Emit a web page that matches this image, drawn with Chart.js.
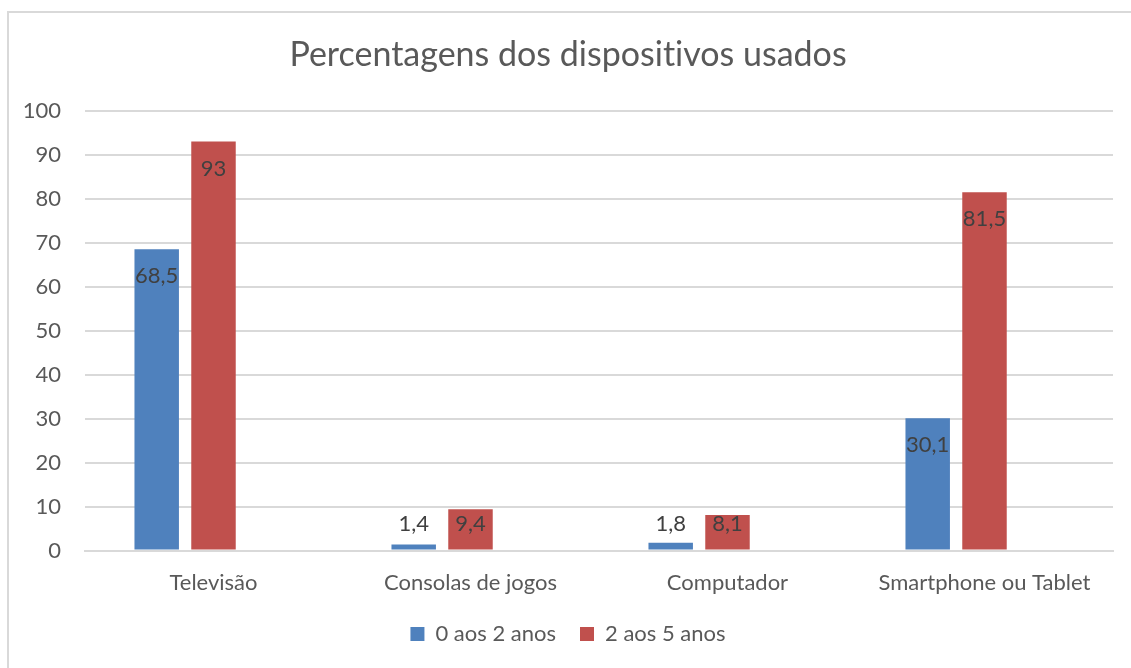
<!DOCTYPE html>
<html>
<head>
<meta charset="utf-8">
<script src="https://cdn.jsdelivr.net/npm/chart.js@4/dist/chart.umd.min.js"></script>
<style>
  html, body { margin: 0; padding: 0; background: #fff; overflow: hidden; }
  #moldura { position: absolute; left: 7px; top: 11px; width: 1200px; height: 700px; border: 2px solid #d9d9d9; }
  #caixa { position: absolute; left: 0; top: 0; width: 1131px; height: 668px; }
</style>
</head>
<body>
<div id="moldura"></div>
<div id="caixa"><canvas id="grafico"></canvas></div>
<script>
const CATEGORIAS = ["Televisão", "Consolas de jogos", "Computador", "Smartphone ou Tablet"]
const SERIE_0_2 = [68.5, 1.4, 1.8, 30.1]
const SERIE_2_5 = [93, 9.4, 8.1, 81.5]
// a terceira série do original está vazia, mas ocupa lugar no grupo
const SERIE_VAZIA = [null, null, null, null]
const NOMES = ["0 aos 2 anos", "2 aos 5 anos", ""]
const TICKS_Y = [0, 10, 20, 30, 40, 50, 60, 70, 80, 90, 100]

const AZUL = "#4f81bd"
const VERMELHO = "#c0504d"
const CINZA = "#595959"
const FONTE = "Lato, 'Liberation Sans', sans-serif"

// sem ligaduras ("ti" da Lato)
const semLigaduras = {
  id: "semLigaduras",
  beforeDraw(chart) { chart.ctx.textRendering = "optimizeSpeed" }
}

const rotulos = {
  id: "rotulos",
  afterDatasetsDraw(chart) {
    const ctx = chart.ctx
    const base = chart.scales.y.getPixelForValue(0)
    ctx.save()
    ctx.font = "22px " + FONTE
    ctx.fillStyle = "#404040"
    ctx.textAlign = "center"
    ctx.textBaseline = "middle"
    chart.data.datasets.forEach((ds, i) => {
      const meta = chart.getDatasetMeta(i)
      meta.data.forEach((barra, j) => {
        const v = ds.data[j]
        if (v === null) return
        const y = Math.min(barra.y + 27, base - 27)
        ctx.fillText(String(v).replace(".", ","), barra.x, y)
      })
    })
    ctx.restore()
  }
}

new Chart(document.getElementById("grafico"), {
  type: "bar",
  data: {
    labels: CATEGORIAS,
    datasets: [
      { label: NOMES[0], data: SERIE_0_2, backgroundColor: AZUL },
      { label: NOMES[1], data: SERIE_2_5, backgroundColor: VERMELHO },
      { label: NOMES[2], data: SERIE_VAZIA, backgroundColor: "#9bbb59" }
    ]
  },
  options: {
    responsive: true,
    maintainAspectRatio: false,
    animation: false,
    layout: { padding: { left: 23, right: 18, top: 35, bottom: 13 } },
    datasets: { bar: { categoryPercentage: 0.663, barPercentage: 0.783 } },
    plugins: {
      title: {
        display: true,
        text: "Percentagens dos dispositivos usados",
        color: CINZA,
        font: { family: FONTE, size: 34, weight: "normal" },
        padding: { top: 0, bottom: 35 }
      },
      legend: {
        position: "bottom",
        labels: {
          color: CINZA,
          font: { family: FONTE, size: 22 },
          boxWidth: 14,
          boxHeight: 14,
          padding: 24,
          filter: item => item.text !== ""
        }
      },
      tooltip: { enabled: false }
    },
    scales: {
      x: {
        grid: { display: false, drawTicks: false },
        border: { color: "#d9d9d9", width: 2 },
        ticks: { color: CINZA, font: { family: FONTE, size: 22 }, padding: 19 },
        afterFit: axis => { axis.height -= 16 }
      },
      y: {
        min: 0,
        max: 100,
        afterBuildTicks: axis => { axis.ticks = TICKS_Y.map(v => ({ value: v })) },
        grid: { color: "#d9d9d9", lineWidth: 2, drawTicks: false },
        border: { display: false },
        ticks: { color: CINZA, font: { family: FONTE, size: 22 }, padding: 24 },
        afterFit: axis => { axis.width = 62 }
      }
    }
  },
  plugins: [semLigaduras, rotulos]
})
</script>
</body>
</html>
